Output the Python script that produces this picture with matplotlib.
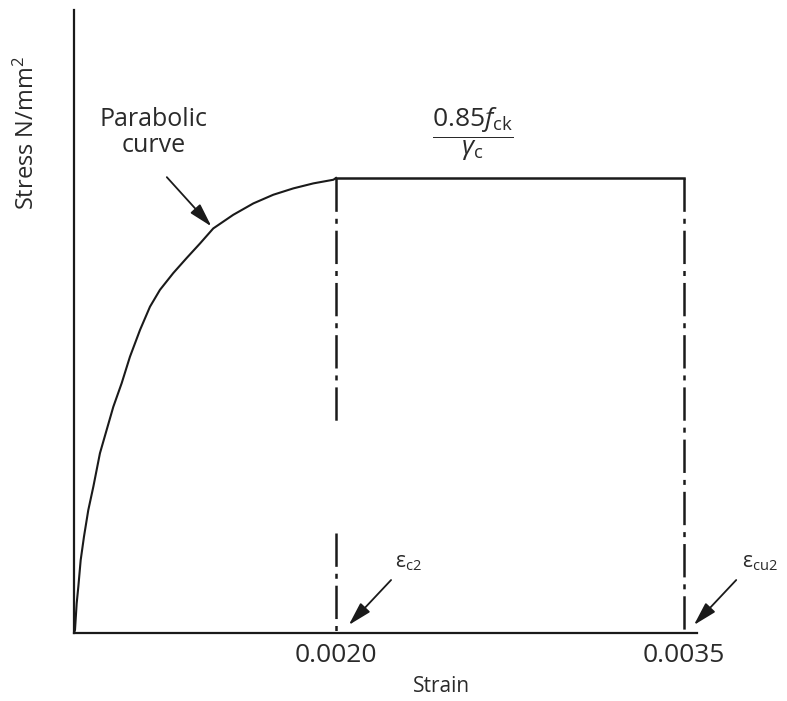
import numpy as np
import matplotlib
matplotlib.use("Agg")
import matplotlib.pyplot as plt

plt.rcParams['font.family'] = ['Open Sans', 'DejaVu Sans']
plt.rcParams['mathtext.fontset'] = 'custom'
plt.rcParams['mathtext.rm'] = 'Open Sans'
plt.rcParams['mathtext.it'] = 'Open Sans:italic'
plt.rcParams['lines.scale_dashes'] = False

# parabolic part (strain, stress / plateau stress)
curve_strain = [0.0, 0.0000076, 0.0000204, 0.0000331, 0.0000509, 0.0000763, 0.000109,
                0.000148, 0.000198, 0.000249, 0.000300, 0.000364, 0.000427, 0.000504,
                0.000580, 0.000656, 0.000758, 0.000860, 0.000962, 0.001063, 0.001216,
                0.001369, 0.001521, 0.001674, 0.001827, 0.001980, 0.0020]
curve_stress = [0.0, 0.0066, 0.065, 0.102, 0.160, 0.212, 0.270,
                0.322, 0.395, 0.446, 0.497, 0.549, 0.607, 0.666,
                0.717, 0.754, 0.791, 0.824, 0.856, 0.889, 0.919,
                0.944, 0.963, 0.977, 0.988, 0.996, 1.0]
eps_c2 = 0.0020
eps_cu2 = 0.0035
plateau = 1.0
tick_vals = [eps_c2, eps_cu2]
tick_labels = ['0.0020', '0.0035']

# the sketch is not to scale: two linear pieces on the strain axis
bk_x = [0.0, 0.0020, 0.0035, 0.0040]
bk_p = [0.0, 262.0, 610.0, 726.0]
def fwd(x):
    return np.interp(x, bk_x, bk_p)
def inv(p):
    return np.interp(p, bk_p, bk_x)

ink = '#1a1a1a'
txt = '#2a2a2a'
dashdot = (0, (24, 5, 3.6, 5))

fig = plt.figure(figsize=(7.87, 7.01), dpi=100)
ax = fig.add_axes([74/787, 68/701, 623/787, 623/701])
ax.set_xscale('function', functions=(fwd, inv))
ax.set_xlim(0, 0.003556)
ax.set_ylim(0, 1.369)

ax.plot(curve_strain, curve_stress, color=ink, lw=1.5)
ax.plot([eps_c2, eps_cu2], [plateau, plateau], color=ink, lw=1.8)
ax.plot([eps_c2, eps_c2], [plateau, 0.46], color=ink, lw=1.8, linestyle=dashdot)
ax.plot([eps_c2, eps_c2], [0.22, 0], color=ink, lw=1.8, linestyle=dashdot)
ax.plot([eps_cu2, eps_cu2], [plateau, 0], color=ink, lw=1.8, linestyle=dashdot)

for s in ['top', 'right']:
    ax.spines[s].set_visible(False)
for s in ['left', 'bottom']:
    ax.spines[s].set_linewidth(1.6)
    ax.spines[s].set_color(ink)
ax.set_yticks([])
ax.set_xticks(tick_vals)
ax.set_xticklabels(tick_labels, fontsize=19, color=txt)
ax.tick_params(axis='x', length=0, pad=7)
ax.set_xlabel('Strain', fontsize=15, color=txt)
ax.xaxis.set_label_coords(0.59, -0.069)
fig.text(27/787, 1 - 133/701, 'Stress N/mm$^2$', rotation=90, fontsize=17,
         color=txt, ha='center', va='center')

arrow = dict(arrowstyle='-|>,head_length=0.9,head_width=0.25', color=ink, lw=1.3,
             mutation_scale=16)

ax.text(0.128, 0.804, 'Parabolic\ncurve', transform=ax.transAxes, fontsize=18,
        color=txt, ha='center', va='center', linespacing=1.05)
ax.annotate('', xy=(curve_strain[19], curve_stress[19]), xycoords='data',
            xytext=(0.146, 0.735), textcoords='axes fraction', arrowprops=arrow)

ax.text(0.640, 0.801, r'$\dfrac{0.85\mathit{f}_{\mathrm{ck}}}{\gamma_{\mathrm{c}}}$',
        transform=ax.transAxes, fontsize=19, color=txt, ha='center', va='center')

ax.annotate('', xy=(0.438, 0.0096), xycoords='axes fraction',
            xytext=(0.512, 0.0883), textcoords='axes fraction', arrowprops=arrow,
            annotation_clip=False)
ax.text(0.515, 0.096, r'ε$_{\mathrm{c2}}$', transform=ax.transAxes, fontsize=15,
        color=txt, ha='left', va='bottom')
ax.annotate('', xy=(0.992, 0.0096), xycoords='axes fraction',
            xytext=(1.066, 0.0883), textcoords='axes fraction', arrowprops=arrow,
            annotation_clip=False)
ax.text(1.072, 0.096, r'ε$_{\mathrm{cu2}}$', transform=ax.transAxes, fontsize=15,
        color=txt, ha='left', va='bottom', clip_on=False)

fig.savefig('out.png', dpi=100)
